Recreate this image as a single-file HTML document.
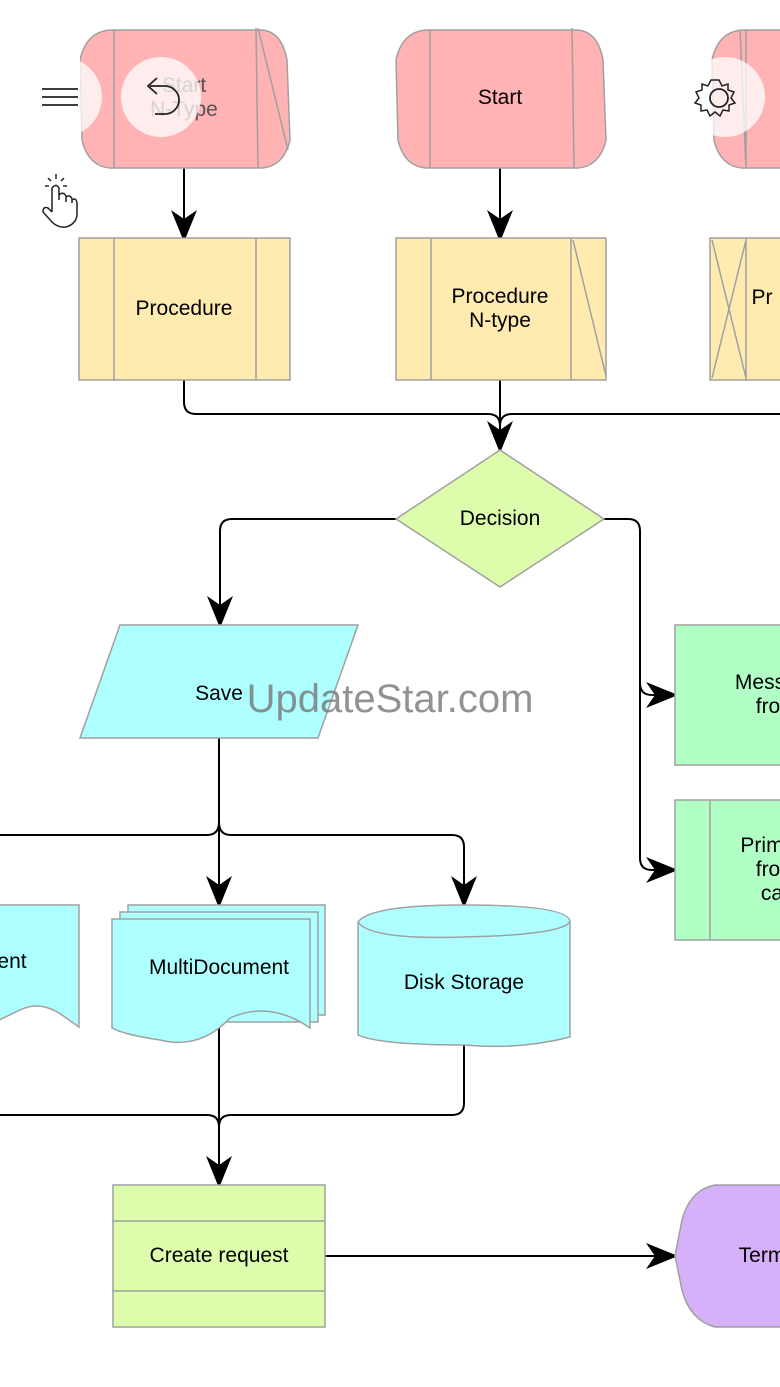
<!DOCTYPE html>
<html><head><meta charset="utf-8"><style>
html,body{margin:0;padding:0;background:#fff;}
svg{display:block;font-family:"Liberation Sans",Arial,sans-serif;}
</style></head><body>
<svg width="780" height="1387" viewBox="0 0 780 1387" xmlns="http://www.w3.org/2000/svg">
<defs>
<marker id="a" markerWidth="32" markerHeight="26" viewBox="0 0 32 26" refX="30" refY="13" orient="auto" markerUnits="userSpaceOnUse">
<path d="M0,0 L32,13 L0,26 L9,13 Z" fill="#000"/>
</marker>
</defs>
<g stroke="#000" stroke-width="2" fill="none">
<path d="M184,168 V240" marker-end="url(#a)"/>
<path d="M500,168 V240" marker-end="url(#a)"/>
<path d="M184,380 V402 Q184,414 196,414 H488 Q500,414 500,426 V451" marker-end="url(#a)"/>
<path d="M500,380 V426 M500,426 Q500,414 512,414 H780"/>
<path d="M396,519 H232 Q220,519 220,531 V626" marker-end="url(#a)"/>
<path d="M604,519 H628 Q640,519 640,531 V683 Q640,695 652,695 H676" marker-end="url(#a)"/>
<path d="M640,683 V858 Q640,870 652,870 H676" marker-end="url(#a)"/>
<path d="M219,738 V822 Q219,835 207,835 H0"/>
<path d="M219,822 V906" marker-end="url(#a)"/>
<path d="M219,822 Q219,835 231,835 H452 Q464,835 464,847 V906" marker-end="url(#a)"/>
<path d="M219,1028 V1186" marker-end="url(#a)"/>
<path d="M464,1045 V1103 Q464,1115 452,1115 H231 Q219,1115 219,1127"/>
<path d="M0,1115 H207 Q219,1115 219,1127"/>
<path d="M325,1256 H676" marker-end="url(#a)"/>
</g>
<g stroke="#a0a0a0" stroke-width="1.5">
<path d="M110,30 H262 Q282,32 287,60 L290,140 Q284,166 262,168 H110 Q88,166 82,140 L80,60 Q86,32 110,30 Z" fill="#ffb3b5"/>
<path d="M114,30 V168 M256,28 L258,168 M258,28 L288,150" fill="none"/>
<path d="M426,30 H578 Q598,32 603,60 L606,140 Q600,166 578,168 H426 Q404,166 398,140 L396,60 Q402,32 426,30 Z" fill="#ffb3b5"/>
<path d="M430,30 V168 M572,28 L574,168" fill="none"/>
<path d="M742,30 H790 V168 H742 Q720,166 714,140 L712,60 Q718,32 742,30 Z" fill="#ffb3b5"/>
<path d="M746,30 V168 M740,30 L746,168" fill="none"/>
<rect x="79" y="238" width="211" height="142" fill="#ffeab0"/>
<path d="M114,238 V380 M256,238 V380" fill="none"/>
<rect x="396" y="238" width="210" height="142" fill="#ffeab0"/>
<path d="M431,238 V380 M571,238 V380 M573,240 L606,376" fill="none"/>
<rect x="710" y="238" width="80" height="142" fill="#ffeab0"/>
<path d="M746,238 V380 M712,240 L746,378 M746,240 L712,378" fill="none"/>
<path d="M500,450 L604,519 L500,587 L396,519 Z" fill="#ddfdad"/>
<path d="M120,625 H358 L318,738 H80 Z" fill="#aeffff"/>
<rect x="675" y="625" width="120" height="140" fill="#b0ffc4"/>
<rect x="675" y="800" width="120" height="140" fill="#b0ffc4"/>
<path d="M710,800 V940" fill="none"/>
<path d="M-5,905 H79 V1027 L62,1015 Q40,1000 20,1010 L-5,1022 Z" fill="#aeffff"/>
<path d="M128,905 H325 V1015 H128 Z" fill="#aeffff"/>
<path d="M120,912 H318 V1022 H120 Z" fill="#aeffff"/>
<path d="M112,919 H310 V1028 Q270,1000 230,1018 Q200,1050 160,1040 Q125,1035 112,1028 Z" fill="#aeffff"/>
<path d="M358,922 Q370,905 464,905 Q570,905 570,922 V1037 Q520,1050 464,1045 Q380,1045 358,1035 Z" fill="#aeffff"/>
<path d="M358,922 Q370,940 464,937 Q560,935 570,922" fill="none"/>
<rect x="113" y="1185" width="212" height="142" fill="#ddfdad"/>
<path d="M113,1221 H325 M113,1291 H325" fill="none"/>
<path d="M715,1185 H790 V1327 H715 Q690,1320 682,1290 L675,1256 L682,1220 Q690,1190 715,1185 Z" fill="#d7b0fa"/>
</g>
<g font-size="21" fill="#000" text-anchor="middle">
<text x="184" y="92" fill="#555">Start</text>
<text x="184" y="116" fill="#555">N-Type</text>
<text x="500" y="104">Start</text>
<text x="184" y="315">Procedure</text>
<text x="500" y="303">Procedure</text>
<text x="500" y="327">N-type</text>
<text x="762" y="304">Pr</text>
<text x="500" y="525">Decision</text>
<text x="219" y="700">Save</text>
<text x="760" y="689">Mess</text>
<text x="768" y="713">fro</text>
<text x="762" y="852">Prim</text>
<text x="768" y="876">fro</text>
<text x="772" y="900">ca</text>
<text x="12" y="968">ent</text>
<text x="219" y="974">MultiDocument</text>
<text x="464" y="989">Disk Storage</text>
<text x="219" y="1262">Create request</text>
<text x="762" y="1262">Term</text>
</g>
<circle cx="62" cy="97" r="40" fill="#fff" opacity="0.75"/>
<circle cx="161" cy="97" r="40" fill="#fff" opacity="0.75"/>
<circle cx="725" cy="97" r="40" fill="#fff" opacity="0.75"/>
<rect x="0" y="50" width="80" height="100" fill="#fff"/>
<rect x="660" y="50" width="50" height="100" fill="#fff"/>
<g stroke="#222" stroke-width="1.8" fill="none">
<path d="M42,89 H78 M42,97 H78 M42,105 H78"/>
<path d="M150,86 H165 A14,14 0 0 1 165,114 H155 M157,78 L148,86 L157,94"/>
<circle cx="719" cy="98" r="9"/>
<path d="M719,80 l3,6 6,-2 0,6 6,2 -3,6 4,5 -6,2 0,6 -6,-1 -3,6 -5,-4 -5,4 -3,-6 -6,1 0,-6 -6,-2 4,-5 -3,-6 6,-2 0,-6 6,2 3,-6 z" stroke-width="1.5"/>
<path d="M52,212 V188 Q56,183 59,188 V200 M59,195 Q63,191 66,196 V202 M66,197 Q70,194 72,199 V203 M72,200 Q76,197 77,203 V215 Q76,224 66,227 Q58,228 52,222 L43,212 Q43,206 48,208 L52,212" stroke-width="1.5"/>
<path d="M56,174 V179 M48,178 L51,181 M64,178 L61,181 M45,186 H49 M63,186 H67" stroke-width="1.5"/>
</g>
<text x="390" y="712" font-size="40" fill="#777" fill-opacity="0.8" text-anchor="middle">UpdateStar.com</text>
</svg>
</body></html>
